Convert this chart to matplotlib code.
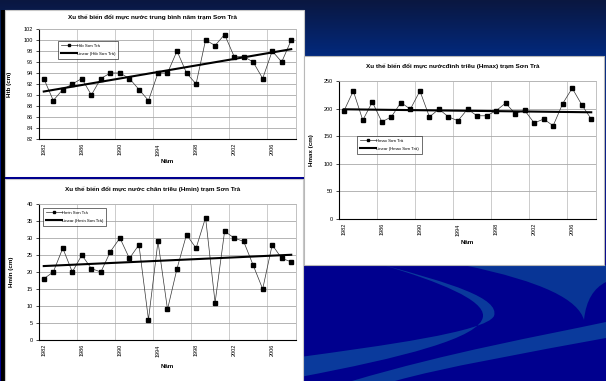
import numpy as np
import matplotlib
matplotlib.use("Agg")
import matplotlib.pyplot as plt
from matplotlib.patches import Rectangle, PathPatch
from matplotlib.path import Path
from matplotlib.lines import Line2D
from matplotlib.colors import to_rgb

plt.rcParams['font.family'] = ['Liberation Sans', 'DejaVu Sans']

# ---- data -------------------------------------------------------------
years = list(range(1982, 2009))
year_labels = [str(y) for y in range(1982, 2009, 4)]

htb = [93, 89, 91, 92, 93, 90, 93, 94, 94, 93, 91, 89, 94, 94, 98, 94, 92,
       100, 99, 101, 97, 97, 96, 93, 98, 96, 100]
hmin = [18, 20, 27, 20, 25, 21, 20, 26, 30, 24, 28, 6, 29, 9, 21, 31, 27,
        36, 11, 32, 30, 29, 22, 15, 28, 24, 23]
hmax = [195, 232, 179, 212, 176, 185, 211, 199, 232, 185, 199, 185, 178, 199,
        187, 187, 196, 210, 191, 197, 174, 181, 169, 209, 237, 207, 181]

W, H = 606, 381
fig = plt.figure(figsize=(W / 100, H / 100), dpi=100)


def fx(x):
    return x / W


def fy(y):
    return 1 - y / H


# ---- slide background ---------------------------------------------------
bg = fig.add_axes([0, 0, 1, 1])
bg.set_xlim(0, W)
bg.set_ylim(H, 0)
bg.axis('off')

top_c = np.array(to_rgb('#0a1740'))
mid_c = np.array(to_rgb('#022a80'))
low_c = np.array(to_rgb('#00008e'))
rows = []
for y in range(H):
    if y < 58:
        t = y / 58
        rows.append(top_c * (1 - t) + mid_c * t)
    elif y < 265:
        t = (y - 58) / (265 - 58)
        rows.append(mid_c * (1 - t) + low_c * t)
    else:
        rows.append(low_c)
grad = np.array(rows).reshape(H, 1, 3)
bg.imshow(grad, extent=(0, W, H, 0), aspect='auto', zorder=0)

swoosh = '#0a3a9c'
# curved crescent sweeping to the lower left
pA = Path([(383, 265), (450, 283), (500, 298), (494, 316),
           (486, 332), (380, 346), (300, 357),
           (300, 377),
           (400, 358), (482, 338), (483, 316),
           (484, 300), (440, 282), (383, 265)],
          [Path.MOVETO, Path.CURVE4, Path.CURVE4, Path.CURVE4,
           Path.CURVE4, Path.CURVE4, Path.CURVE4,
           Path.LINETO,
           Path.CURVE4, Path.CURVE4, Path.CURVE4,
           Path.CURVE4, Path.CURVE4, Path.CURVE4])
bg.add_patch(PathPatch(pA, facecolor=swoosh, edgecolor='none', zorder=1))
# wide diagonal band
pB = Path([(352, 381), (450, 352), (540, 336), (606, 322),
           (606, 338), (530, 352), (440, 368), (395, 381), (352, 381)],
          [Path.MOVETO, Path.CURVE4, Path.CURVE4, Path.CURVE4,
           Path.LINETO, Path.CURVE4, Path.CURVE4, Path.CURVE4, Path.CLOSEPOLY])
bg.add_patch(PathPatch(pB, facecolor=swoosh, edgecolor='none', zorder=1))
# upper right curl
pC = Path([(463, 265), (606, 265), (606, 282),
           (594, 288), (586, 300), (584, 320),
           (578, 300), (545, 282), (463, 265)],
          [Path.MOVETO, Path.LINETO, Path.LINETO,
           Path.CURVE4, Path.CURVE4, Path.CURVE4,
           Path.CURVE4, Path.CURVE4, Path.CURVE4])
bg.add_patch(PathPatch(pC, facecolor='#083596', edgecolor='none', zorder=1))

# left dark strip and white panels
bg.add_patch(Rectangle((0.5, 10), 4.5, H - 10, facecolor='black', edgecolor='none', zorder=2))
bg.add_patch(Rectangle((5, 10), 299, 167, facecolor='white', edgecolor='#c8c8c8', lw=0.8, zorder=2))
bg.add_patch(Rectangle((5, 177), 299, 2.2, facecolor='#00008e', edgecolor='none', zorder=3))
bg.add_patch(Rectangle((5, 179.2), 298, 205, facecolor='white', edgecolor='#c8c8c8', lw=0.8, zorder=2))
bg.add_patch(Rectangle((304, 56), 300, 209, facecolor='white', edgecolor='#b8b8b8', lw=0.8, zorder=2))


# ---- charts -------------------------------------------------------------
def chart(box, values, ylim, ystep, title, title_xy, ylabel, ylabel_x,
          xlabel_y, series_name, legend_xy):
    left, top, right, bottom = box
    ax = fig.add_axes([fx(left), fy(bottom), fx(right) - fx(left),
                       (bottom - top) / H])
    idx = np.arange(len(years))
    ax.plot(idx, values, color='#333333', lw=0.5, marker='s', ms=2.4,
            mfc='black', mec='black', zorder=3)
    k, b = np.polyfit(idx, values, 1)
    ends = np.array([idx[0], idx[-1]])
    ax.plot(ends, k * ends + b, color='black', lw=1.5, zorder=4)

    ax.set_xlim(-0.5, len(years) - 0.5)
    ax.set_ylim(*ylim)
    ax.set_yticks(np.arange(ylim[0], ylim[1] + ystep / 2, ystep))
    ax.set_xticks(idx[::4])
    ax.set_xticklabels(year_labels, rotation=90)
    ax.set_xticks(np.arange(3.5, len(years) - 1, 4), minor=True)
    ax.grid(True, axis='y', which='major', color='#a8a8a8', lw=0.6)
    ax.grid(True, axis='x', which='minor', color='#c4c4c4', lw=0.6)
    ax.set_axisbelow(True)
    ax.tick_params(axis='y', direction='out', length=2, width=0.5,
                   labelsize=4, pad=2.5, colors='black')
    ax.tick_params(axis='x', which='both', length=0, labelsize=4, pad=3)
    for s in ('left', 'bottom'):
        ax.spines[s].set_color('black')
        ax.spines[s].set_linewidth(0.8)
    for s in ('top', 'right'):
        ax.spines[s].set_color('#b8b8b8')
        ax.spines[s].set_linewidth(0.6)

    fig.text(fx(title_xy[0]), fy(title_xy[1]), title, ha='center',
             va='center', fontsize=4.6, fontweight='bold')
    fig.text(fx(ylabel_x), fy((top + bottom) / 2), ylabel, rotation=90,
             ha='center', va='center', fontsize=4.5, fontweight='bold')
    fig.text(fx((left + right) / 2), fy(xlabel_y), 'Năm', ha='center',
             va='center', fontsize=4.5, fontweight='bold')

    handles = [Line2D([], [], color='#333333', lw=0.5, marker='s', ms=1.8,
                      mfc='black', mec='black'),
               Line2D([], [], color='black', lw=1.5)]
    leg = fig.legend(handles, [series_name, f'Linear ({series_name})'],
                     loc='upper left',
                     bbox_to_anchor=(fx(legend_xy[0]), fy(legend_xy[1])),
                     fontsize=3.1, frameon=True, fancybox=False,
                     edgecolor='black', handlelength=3.8, handletextpad=0.1,
                     borderpad=0.6, labelspacing=1.0, borderaxespad=0)
    leg.get_frame().set_linewidth(0.5)
    return ax


chart((39, 29, 296, 139), htb, (82, 102), 2,
      'Xu thế biến đổi mực nước trung bình năm trạm Sơn Trà', (153, 17),
      'Htb (cm)', 10, 161, 'Htb Sơn Trà', (58, 41))

chart((39, 204, 296, 340), hmin, (0, 40), 5,
      'Xu thế biến đổi mực nước chân triều (Hmin) trạm Sơn Trà', (153, 189),
      'Hmin (cm)', 11, 367, 'Hmin Sơn Trà', (43, 208))

chart((339, 81, 596, 219), hmax, (0, 250), 50,
      'Xu thế biến đổi mực nướcđỉnh triều (Hmax) trạm Sơn Trà', (453, 66),
      'Hmax (cm)', 312, 243, 'Hmax Sơn Trà', (357, 136))

fig.savefig('out.png', dpi=100)
